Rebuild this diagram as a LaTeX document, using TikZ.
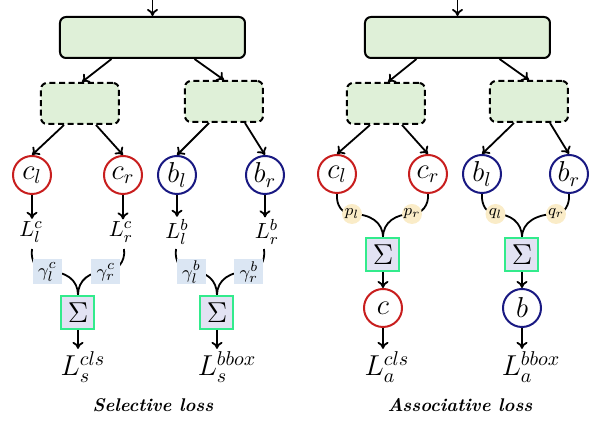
\documentclass[tikz,border=0pt]{standalone}
\usepackage{amsmath}
\usetikzlibrary{arrows.meta,calc}
\definecolor{boxfill}{RGB}{223,240,216}
\definecolor{cred}{RGB}{200,30,30}
\definecolor{cblue}{RGB}{25,25,130}
\definecolor{sigfill}{RGB}{226,226,243}
\definecolor{sigline}{RGB}{50,235,140}
\definecolor{gamfill}{RGB}{219,230,243}
\definecolor{pfill}{RGB}{250,236,200}
\pgfdeclarelayer{bg}
\pgfsetlayers{bg,main}
\begin{document}
\begin{tikzpicture}[x=0.5pt,y=-0.5pt,
 arr/.style={-{To[length=3.5pt,width=5.5pt]}, line width=0.9pt},
 ln/.style={line width=0.9pt},
 bigbox/.style={draw, line width=1pt, fill=boxfill, rounded corners=3pt, minimum width=92.5pt, minimum height=20.5pt, inner sep=0},
 dbox/.style={bigbox, dash pattern=on 3pt off 1.8pt, minimum width=39pt},
 rc/.style={circle, draw=cred, line width=1pt, minimum size=19pt, inner sep=0, fill=white, font=\fontsize{14}{16}\selectfont},
 bc/.style={rc, draw=cblue},
 sig/.style={draw=sigline, fill=sigfill, line width=1pt, minimum size=16.5pt, inner sep=0, font=\fontsize{15}{17}\selectfont},
 gam/.style={fill=gamfill, minimum width=14.5pt, minimum height=12.5pt, inner sep=0, font=\fontsize{9.5}{11}\selectfont},
 pc/.style={circle, fill=pfill, minimum size=10pt, inner sep=0, font=\fontsize{8.5}{10}\selectfont},
 lab/.style={font=\fontsize{11}{13}\selectfont, inner sep=1pt},
 blab/.style={font=\fontsize{14}{16}\selectfont, inner sep=1pt},
 ttl/.style={font=\fontsize{9.2}{11}\selectfont\bfseries\itshape}
]
\useasboundingbox (0,0) rectangle (591,421);

% ================= Selective (left) =================
\node[bigbox] (top1) at (152.5,37.5) {};
\coordinate (in1) at (152.5,0);
\draw[arr] (in1) -- (top1.north);
\node[dbox] (d1) at (80,103.5) {};
\node[dbox] (d2) at (224,101.5) {};
\draw[arr] ($(top1.south)+(-41,0)$) -- ($(d1.north)+(2,0)$);
\draw[arr] ($(top1.south)+(42,0)$) -- (d2.north);

\node[rc] (cl) at (32,175) {$c_l$};
\node[rc] (cr) at (123,175) {$c_r$};
\node[bc] (bl) at (177,175) {$b_l$};
\node[bc] (br) at (265,175) {$b_r$};
\draw[arr] ($(d1.south)+(-16,0)$) -- (cl.north);
\draw[arr] ($(d1.south)+(16,0)$) -- (cr.north);
\draw[arr] ($(d2.south)+(-15,0)$) -- (bl.north);
\draw[arr] ($(d2.south)+(21,0)$) -- (br.north);

\node[lab] (Llc) at (31,232) {$L_l^c$};
\node[lab] (Lrc) at (121,232) {$L_r^c$};
\node[lab] (Llb) at (177,232) {$L_l^b$};
\node[lab] (Lrb) at (267,232) {$L_r^b$};
\draw[arr] (cl.south) -- (cl.south |- Llc.north);
\draw[arr] (cr.south) -- (cr.south |- Lrc.north);
\draw[arr] (bl.south) -- (bl.south |- Llb.north);
\draw[arr] (br.south) -- (br.south |- Lrb.north);

\node[gam] (g1) at (47.5,272) {$\gamma_l^c$};
\node[gam] (g2) at (106,272) {$\gamma_r^c$};
\node[gam] (g3) at (191.5,272) {$\gamma_l^b$};
\node[gam] (g4) at (249,272) {$\gamma_r^b$};
\node[sig] (s1) at (78,312.5) {$\Sigma$};
\node[sig] (s2) at (217,312.5) {$\Sigma$};

\coordinate (a1) at (32,249);
\coordinate (a2) at (124,249);
\coordinate (a3) at (176,249);
\coordinate (a4) at (264,249);
\begin{pgfonlayer}{bg}
\draw[ln] (a1) .. controls (30,262) and (38,272) .. (g1.center);
\draw[ln] (g1.center) .. controls (66,271) and (78,280) .. (s1.north);
\draw[ln] (a2) .. controls (126,262) and (116,272) .. (g2.center);
\draw[ln] (g2.center) .. controls (90,271) and (78,280) .. (s1.north);
\draw[ln] (a3) .. controls (174,262) and (182,272) .. (g3.center);
\draw[ln] (g3.center) .. controls (206,271) and (217,280) .. (s2.north);
\draw[ln] (a4) .. controls (266,262) and (258,272) .. (g4.center);
\draw[ln] (g4.center) .. controls (230,271) and (217,280) .. (s2.north);
\end{pgfonlayer}

\node[blab] (Ls1) at (83,367) {$L_s^{cls}$};
\node[blab] (Ls2) at (227,367) {$L_s^{bbox}$};
\draw[arr] (s1.south) -- (s1.south |- Ls1.north);
\draw[arr] (s2.south) -- (s2.south |- Ls2.north);

\node[ttl] (t1) at (153,405) {Selective loss};

% ================= Associative (right) =================
\node[bigbox] (top2) at (457.5,37.5) {};
\coordinate (in2) at (457.5,0);
\draw[arr] (in2) -- (top2.north);
\node[dbox] (d3) at (386,103.5) {};
\node[dbox] (d4) at (529,101.5) {};
\draw[arr] ($(top2.south)+(-41,0)$) -- ($(d3.north)+(2,0)$);
\draw[arr] ($(top2.south)+(42,0)$) -- (d4.north);

\node[rc] (cl2) at (337,174) {$c_l$};
\node[rc] (cr2) at (428,174) {$c_r$};
\node[bc] (bl2) at (482,174) {$b_l$};
\node[bc] (br2) at (569,174) {$b_r$};
\draw[arr] ($(d3.south)+(-16,0)$) -- (cl2.north);
\draw[arr] ($(d3.south)+(16,0)$) -- (cr2.north);
\draw[arr] ($(d4.south)+(-15,0)$) -- (bl2.north);
\draw[arr] ($(d4.south)+(21,0)$) -- (br2.north);

\node[pc] (pl) at (352,214) {$p_l$};
\node[pc] (pr) at (412,214) {$p_r$};
\node[pc] (ql) at (495.5,214) {$q_l$};
\node[pc] (qr) at (556,214) {$q_r$};
\node[sig] (s3) at (383,255) {$\Sigma$};
\node[sig] (s4) at (522,255) {$\Sigma$};
\begin{pgfonlayer}{bg}
\draw[ln] (cl2.south) .. controls (336,205) and (342,214) .. (pl.center);
\draw[ln] (pl.center) .. controls (370,214) and (383,222) .. (s3.north);
\draw[ln] (cr2.south) .. controls (429,205) and (422,214) .. (pr.center);
\draw[ln] (pr.center) .. controls (396,214) and (383,222) .. (s3.north);
\draw[ln] (bl2.south) .. controls (481,205) and (487,214) .. (ql.center);
\draw[ln] (ql.center) .. controls (510,214) and (522,222) .. (s4.north);
\draw[ln] (br2.south) .. controls (570,205) and (564,214) .. (qr.center);
\draw[ln] (qr.center) .. controls (537,214) and (522,222) .. (s4.north);
\end{pgfonlayer}

\node[rc] (cc) at (383,308) {$c$};
\node[bc] (bb) at (522,308) {$b$};
\draw[arr] (s3.south) -- (cc.north);
\draw[arr] (s4.south) -- (bb.north);

\node[blab] (La1) at (387,367) {$L_a^{cls}$};
\node[blab] (La2) at (531,367) {$L_a^{bbox}$};
\draw[arr] (cc.south) -- (cc.south |- La1.north);
\draw[arr] (bb.south) -- (bb.south |- La2.north);

\node[ttl] (t2) at (460,405) {Associative loss};
\end{tikzpicture}
\end{document}
